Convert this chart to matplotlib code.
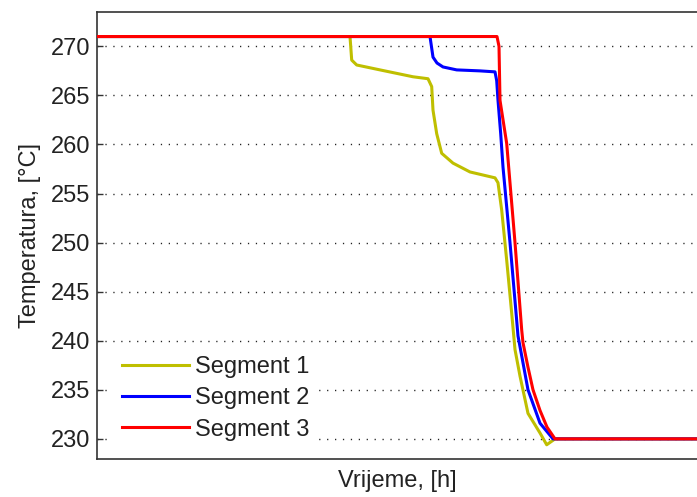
import matplotlib
matplotlib.use("Agg")
import matplotlib.pyplot as plt

plt.rcParams['font.family'] = ['Liberation Sans', 'DejaVu Sans']

# time [h] and temperature [°C] per segment
t_seg1 = [0, 25.3, 25.47, 25.97, 28.3, 31.6, 33.1, 33.47, 33.6, 33.97, 34.47, 35.6, 37.3,
          39.8, 40.1, 40.47, 40.97, 41.47, 41.8, 42.3, 43.1, 44.3, 44.97, 45.8, 60]
T_seg1 = [271, 271, 268.6, 268.1, 267.6, 266.9, 266.7, 265.9, 263.5, 261.1, 259.1, 258.1, 257.2,
          256.6, 256.1, 253.3, 248.2, 242.8, 239.1, 236.4, 232.6, 230.6, 229.4, 230, 230]

t_seg2 = [0, 33.3, 33.6, 34.0, 34.6, 35.97, 38.3, 39.8, 39.97, 40.1, 40.37, 40.6, 41.3,
          42.1, 43.1, 44.3, 45.6, 60]
T_seg2 = [271, 271, 268.9, 268.3, 267.9, 267.6, 267.5, 267.4, 266.5, 264.5, 261.1, 257.7, 250,
          240.5, 235, 231.6, 230, 230]

t_seg3 = [0, 40.0, 40.2, 40.3, 40.97, 41.8, 42.47, 42.6, 43.1, 43.6, 44.3, 45.0, 45.8, 60]
T_seg3 = [271, 271, 270, 264.5, 260.1, 250, 241.1, 239.8, 237.3, 235, 232.9, 231.2, 230, 230]

labels = ['Segment 1', 'Segment 2', 'Segment 3']
colors = ['#BFBF00', '#0000FF', '#FF0000']
yticks = [230, 235, 240, 245, 250, 255, 260, 265, 270]

fig = plt.figure(figsize=(6.97, 4.97), dpi=100)
ax = fig.add_axes([97 / 697, 38 / 497, 600 / 697, 447 / 497])

for t, T, lab, c in zip([t_seg1, t_seg2, t_seg3], [T_seg1, T_seg2, T_seg3], labels, colors):
    ax.plot(t, T, color=c, lw=2.2, label=lab, zorder=3)

ax.set_xlim(0, 60)
ax.set_ylim(227.95, 273.5)
ax.set_yticks(yticks)
ax.set_xticks([])
ax.yaxis.grid(True, color='#222222', lw=1.0, ls=(0, (0.9, 4.8)))
ax.set_axisbelow(True)

for s in ['left', 'top', 'bottom']:
    ax.spines[s].set_color('#333333')
    ax.spines[s].set_linewidth(1.2)
ax.spines['right'].set_visible(False)
ax.tick_params(axis='y', direction='in', length=4, width=1, color='#333333',
               labelsize=17, pad=5, labelcolor='#222222')

ax.set_xlabel('Vrijeme, [h]', fontsize=17, labelpad=8, color='#222222')
ax.set_ylabel('Temperatura, [°C]', fontsize=17, labelpad=7, color='#222222')

leg = ax.legend(loc='lower left', bbox_to_anchor=(0.026, 0.02), fontsize=17,
                frameon=True, framealpha=1, facecolor='white', edgecolor='none',
                fancybox=False, handlelength=2.85, handletextpad=0.25,
                labelspacing=0.39, borderpad=0.4, borderaxespad=0)
for txt in leg.get_texts():
    txt.set_color('#222222')

fig.savefig('out.png', dpi=100)
